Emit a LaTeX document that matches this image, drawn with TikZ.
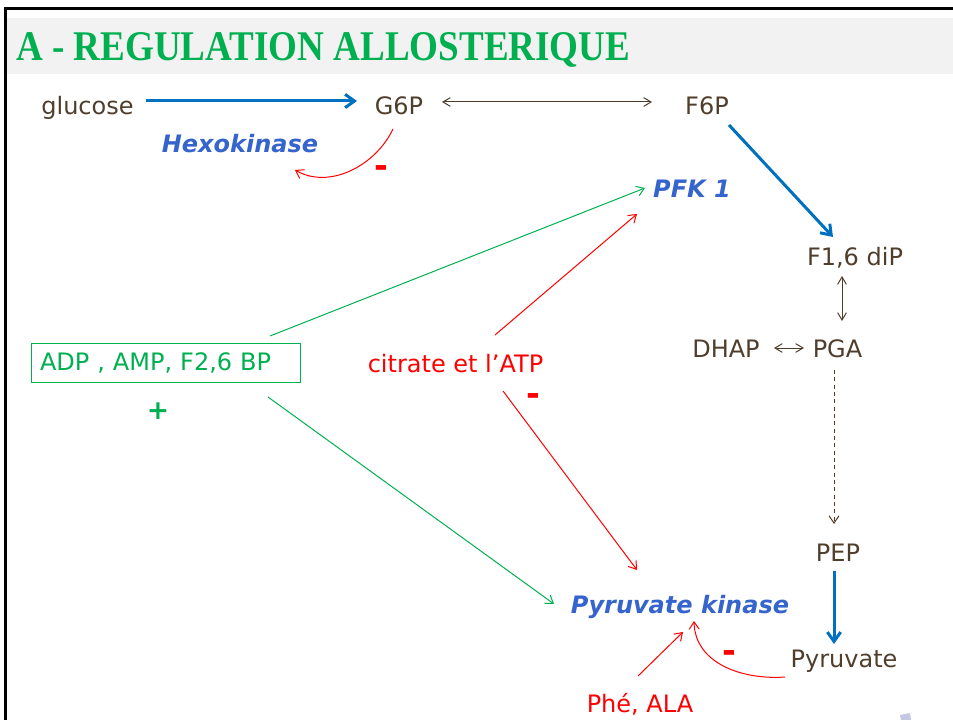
\documentclass[tikz,border=0pt]{standalone}
\usepackage{fontspec}
\usepackage{graphicx}
\setmainfont{DejaVu Sans}
\newfontfamily\titlefont{Liberation Serif}
\usetikzlibrary{arrows.meta,calc}
\definecolor{brownT}{RGB}{80,62,44}
\definecolor{enzblue}{RGB}{54,100,205}
\definecolor{arrblue}{RGB}{0,112,192}
\definecolor{greenT}{RGB}{0,176,80}
\definecolor{redT}{RGB}{255,0,0}
\definecolor{bandgray}{RGB}{242,242,242}
\definecolor{logo}{RGB}{196,200,226}
\tikzset{
  txt/.style={inner sep=0pt, anchor=base, font=\fontsize{18}{20}\selectfont},
  met/.style={txt, text=brownT},
  enz/.style={txt, text=enzblue, font=\fontsize{18}{20}\selectfont\bfseries\itshape},
  redtxt/.style={txt, text=redT},
  sign/.style={inner sep=0pt, anchor=center, font=\fontsize{20}{22}\selectfont\bfseries},
  minus/.style={inner sep=0pt, anchor=center, font=\fontsize{25}{27}\selectfont\bfseries, text=redT},
  thinhead/.style={-{Straight Barb[length=5.5pt,width=7.5pt]}},
  bluearr/.style={draw=arrblue, line width=2.25pt, -{Straight Barb[length=7pt,width=10pt]}},
  brownarr/.style={draw=brownT, line width=0.75pt, {Straight Barb[length=5.5pt,width=6.5pt]}-{Straight Barb[length=5.5pt,width=6.5pt]}},
  redarr/.style={draw=redT, line width=0.75pt, thinhead},
  greenarr/.style={draw=greenT, line width=0.75pt, thinhead},
}
\begin{document}
\begin{tikzpicture}[x=0.75pt,y=-0.75pt]
\useasboundingbox (0,0) rectangle (953,720);
% frame and title band
\fill[bandgray] (7,18) rectangle (953,74);
\draw[black, line width=2.25pt] (4,8.5) -- (953,8.5);
\draw[black, line width=2.25pt] (5.5,7) -- (5.5,720);
\node[inner sep=0pt, anchor=base west, text=greenT] (title) at (16,61)
  {\resizebox{460.5pt}{21pt}{\titlefont\bfseries A - REGULATION ALLOSTERIQUE}};

% metabolites
\node[met] (glucose) at (87.5,115) {glucose};
\node[met] (G6P) at (399,115) {G6P};
\node[met] (F6P) at (707,115) {F6P};
\node[met] (f16) at (855,266) {F1,6 diP};
\node[met] (dhap) at (726,357) {DHAP};
\node[met] (pga) at (837.5,357) {PGA};
\node[met] (pep) at (838,561) {PEP};
\node[met] (pyr) at (844,667) {Pyruvate};

% enzymes
\node[enz] (hexo) at (240,153) {Hexokinase};
\node[enz] (pfk) at (692,198) {PFK 1};
\node[enz] (pk) at (680,613) {Pyruvate kinase};

% effectors
\node[draw=greenT, line width=0.75pt, text=greenT, font=\fontsize{18}{20}\selectfont,
  minimum width=201.75pt, minimum height=29.25pt, inner xsep=6.75pt,
  text width=188.25pt, align=left] (adp) at (165.5,362.5) {ADP , AMP, F2,6 BP};
\node[redtxt] (citrate) at (455.5,372) {citrate et l’ATP};
\node[redtxt] (phe) at (640,712) {Phé, ALA};

% signs
\node[sign, text=greenT] (plus) at (158,411) {+};
\node[minus] (m1) at (381,172) {-};
\node[minus] (m2) at (533,400) {-};
\node[minus] (m3) at (729,657) {-};

% pathway arrows
\draw[bluearr] ($(glucose.base)+(58.5,-14)$) -- ($(G6P.base)+(-42,-14)$);
\draw[brownarr] ($(G6P.base)+(43,-13)$) -- ($(F6P.base)+(-55,-13)$);
\draw[bluearr] ($(F6P.base)+(22,10)$) -- ($(f16.base)+(-22,-29)$);
\draw[brownarr] ($(f16.base)+(-13,10)$) -- ($(pga.base)+(4.5,-36)$);
\draw[brownarr] ($(dhap.base)+(48,-9)$) -- ($(pga.base)+(-33.5,-9)$);
\draw[draw=brownT, line width=0.75pt, dash pattern=on 3pt off 2.5pt, thinhead]
  ($(pga.base)+(-3.5,13)$) -- ($(pep.base)+(-4,-37)$);
\draw[bluearr] ($(pep.base)+(-4,10)$) -- ($(pyr.base)+(-10,-23)$);

% regulation arrows
\draw[redarr] ($(G6P.base)+(-6,14)$) .. controls (376,165) and (330,190) .. ($(hexo.base)+(55,17)$);
\draw[redarr] ($(pyr.base)+(-59,10)$) .. controls (745,680) and (695,665) .. ($(pk.base)+(14,8)$);
\draw[redarr] ($(phe.base)+(-2,-36)$) -- ($(pk.base)+(3,19)$);
\draw[greenarr] ($(adp.center)+(104.5,-26.5)$) -- ($(pfk.base)+(-47,-10)$);
\draw[greenarr] ($(adp.center)+(102.5,34.5)$) -- ($(pk.base)+(-126,-9)$);
\draw[redarr] ($(citrate.base)+(39.5,-37)$) -- ($(pfk.base)+(-55,16)$);
\draw[redarr] ($(citrate.base)+(47.5,19)$) -- ($(pk.base)+(-43,-43)$);

% logo fragment
\fill[logo] (900,715) -- (910,713) -- (911,720) -- (901,720) -- cycle;
\end{tikzpicture}
\end{document}
